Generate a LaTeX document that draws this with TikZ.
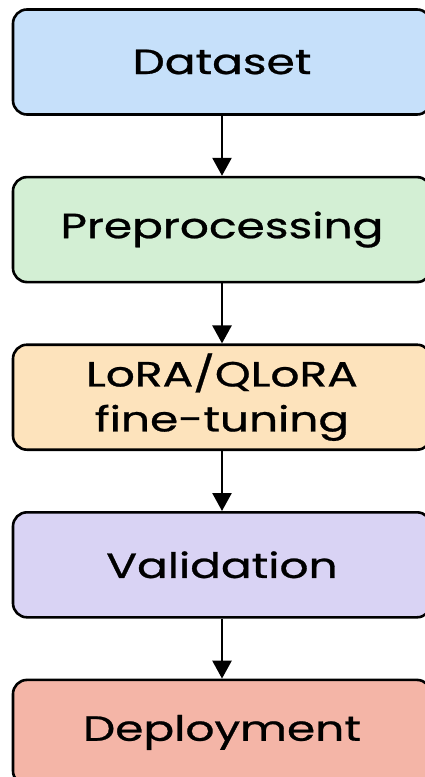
\documentclass[tikz,border=0pt]{standalone}
\usepackage{fontspec}
\setmainfont{Poppins}
\newfontfamily\labelfont[FakeBold=0.7]{Poppins}
\usepackage{tikz}
\usetikzlibrary{positioning,arrows.meta}
\definecolor{stageA}{RGB}{198,224,250}
\definecolor{stageB}{RGB}{211,239,212}
\definecolor{stageC}{RGB}{253,227,188}
\definecolor{stageD}{RGB}{217,211,244}
\definecolor{stageE}{RGB}{244,181,167}
\newcommand{\widetext}[1]{\scalebox{1.3}[1]{#1}}

\begin{document}
\begin{tikzpicture}[
                  x=1pt,y=1pt,
                  font=\labelfont\fontsize{35}{45}\selectfont,
                  stage/.style={draw,rounded corners=14pt,line width=2.6pt,align=center,
                                minimum width=418pt,minimum height=105pt,inner sep=0pt},
                  flow/.style={-{Triangle[length=18pt,width=19pt]},line width=2.6pt}
                ]
                \useasboundingbox (0,0) rectangle (424,-777);
                \node[stage,fill=stageA] (s1) at (222,-62) {\widetext{Dataset}};
                \node[stage,fill=stageB,below=60pt of s1] (s2) {\widetext{Preprocessing}};
                \node[stage,fill=stageC,below=60pt of s2] (s3) {\widetext{LoRA/QLoRA}\\\widetext{fine-tuning}};
                \node[stage,fill=stageD,below=60pt of s3] (s4) {\widetext{Validation}};
                \node[stage,fill=stageE,below=60pt of s4] (s5) {\widetext{Deployment}};

                \draw[flow] (s1.south) -- (s2.north);
                \draw[flow] (s2.south) -- (s3.north);
                \draw[flow] (s3.south) -- (s4.north);
                \draw[flow] (s4.south) -- (s5.north);
                \end{tikzpicture}
\end{document}
